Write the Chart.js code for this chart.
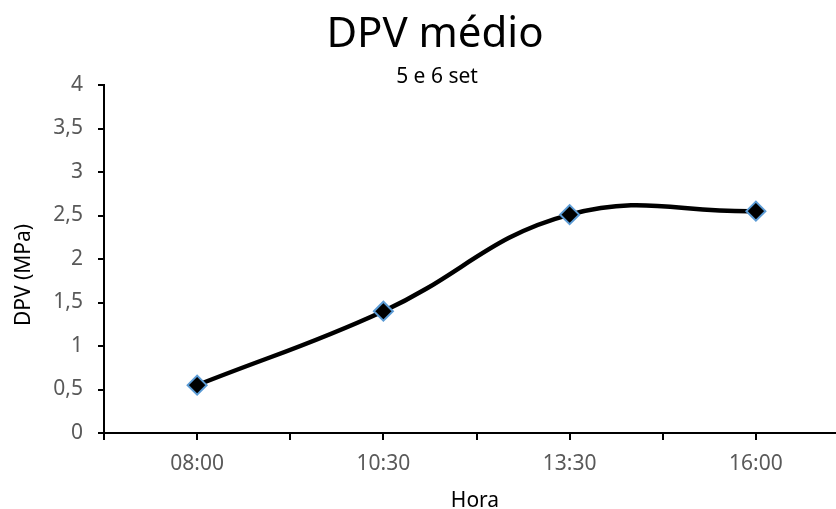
<!DOCTYPE html>
<html>
<head>
<meta charset="utf-8">
<script src="https://cdn.jsdelivr.net/npm/chart.js@4/dist/chart.umd.min.js"></script>
<style>
  html, body { margin: 0; padding: 0; background: #fff; }
  #wrap { width: 836px; height: 509px; }
</style>
</head>
<body>
<div id="wrap"><canvas id="dpvChart"></canvas></div>
<script>
// hora das leituras e DPV medio (MPa)
var horas = ['08:00', '10:30', '13:30', '16:00'];
var dpv = [0.55, 1.40, 2.51, 2.55];
var yTicks = [0, 0.5, 1, 1.5, 2, 2.5, 3, 3.5, 4];

var FONT = "'Noto Sans', sans-serif";
var GRAY = '#595959';

var pontos = horas.map(function (h, i) { return { x: i, y: dpv[i] }; });

// titulos desenhados a mao
const textos = {
    id: 'textos',
    afterDraw: function (chart) {
        var ctx = chart.ctx;
        ctx.save();
        ctx.fillStyle = '#000';
        ctx.textAlign = 'center';
        ctx.textBaseline = 'alphabetic';
        ctx.font = '42px ' + FONT;
        ctx.fillText('DPV médio', 435, 47);
        ctx.font = '21px ' + FONT;
        ctx.fillText('5 e 6 set', 437, 83);
        ctx.fillText('Hora', 475, 507);
        ctx.translate(30, 275);
        ctx.rotate(-Math.PI / 2);
        ctx.fillText('DPV (MPa)', 0, 0);
        ctx.restore();
    }
};

const ctxc = document.getElementById('dpvChart');
const chart = new Chart(ctxc, {
    type: 'line',
    data: {
        datasets: [{
            label: 'DPV',
            data: pontos,
            borderColor: '#000',
            borderWidth: 4.5,
            tension: 0.42,
            pointStyle: 'rectRot',
            pointRadius: 9.5,
            pointHoverRadius: 9.5,
            pointBackgroundColor: '#000',
            pointBorderColor: '#5B9BD5',
            pointBorderWidth: 2,
            clip: false
        }]
    },
    plugins: [textos],
    options: {
        responsive: true,
        maintainAspectRatio: false,
        animation: false,
        // eixo x vai ate a borda direita, sem folga para os marcadores
        layout: {
            autoPadding: false,
            padding: { top: 85, left: 0, right: 0, bottom: 0 }
        },
        plugins: {
            legend: { display: false },
            tooltip: { enabled: false }
        },
        scales: {
            x: {
                type: 'linear',
                min: -0.5,
                max: 3.43,
                afterFit: function (s) {
                    s.height = 76;
                    s.paddingLeft = 0;
                    s.paddingRight = 0;
                },
                border: { color: '#000', width: 2 },
                grid: { drawOnChartArea: false, color: '#000', lineWidth: 2, tickLength: 7 },
                ticks: {
                    stepSize: 0.5,
                    includeBounds: false,
                    autoSkip: false,
                    maxRotation: 0,
                    padding: 11,
                    color: GRAY,
                    font: { family: FONT, size: 21 },
                    callback: function (v) {
                        return Number.isInteger(v) && horas[v] !== undefined ? horas[v] : '';
                    }
                }
            },
            y: {
                min: 0,
                max: 4,
                afterFit: function (s) { s.width = 104; },
                afterBuildTicks: function (s) {
                    s.ticks = yTicks.map(function (v) { return { value: v }; });
                },
                border: { color: '#000', width: 2 },
                grid: { drawOnChartArea: false, color: '#000', lineWidth: 2, tickLength: 6 },
                ticks: {
                    padding: 15,
                    color: GRAY,
                    font: { family: FONT, size: 21 },
                    callback: function (v) { return String(v).replace('.', ','); }
                }
            }
        }
    }
});
</script>
</body>
</html>
